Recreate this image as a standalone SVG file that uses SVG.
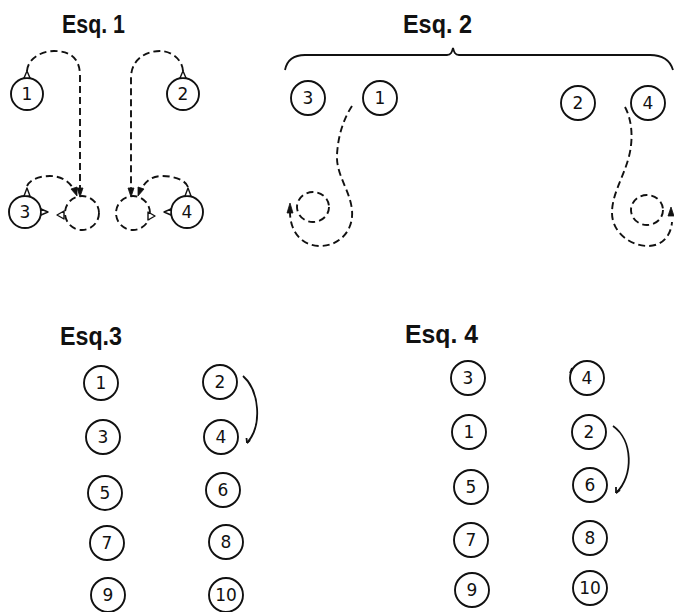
<svg xmlns="http://www.w3.org/2000/svg" width="674" height="612" viewBox="0 0 674 612">
<style>
.c{fill:#fff;stroke:#111;stroke-width:1.9}
.dc{fill:none;stroke:#111;stroke-width:1.9;stroke-dasharray:7 4}
.d{fill:none;stroke:#111;stroke-width:1.9;stroke-dasharray:7 4}
.s{fill:none;stroke:#111;stroke-width:1.8}
.t{fill:#fff;stroke:#111;stroke-width:1.4;stroke-linejoin:round}
.ah{fill:#111;stroke:#111;stroke-width:0.8}
.n{font-family:"DejaVu Sans","Liberation Sans",sans-serif;font-size:17px;fill:#111;text-anchor:middle}
.h{font-family:"Liberation Sans",Arial,sans-serif;font-weight:bold;font-size:25px;fill:#111}
</style>
<rect width="674" height="612" fill="#fff"/>

<!-- titles -->
<text class="h" x="62" y="33" textLength="63" lengthAdjust="spacingAndGlyphs">Esq. 1</text>
<text class="h" x="403" y="33" textLength="69" lengthAdjust="spacingAndGlyphs">Esq. 2</text>
<text class="h" x="60" y="345" textLength="62" lengthAdjust="spacingAndGlyphs">Esq.3</text>
<text class="h" x="405" y="343" textLength="73" lengthAdjust="spacingAndGlyphs">Esq. 4</text>

<!-- connectors -->
<g id="connectors">
  <!-- Esq 1 -->
  <path class="d" d="M27,71 C28,58 42,51 54,51 C70,51 80,58 80,76 L80,190"/>
  <polygon class="ah" points="80,197 77,188 83,188"/>
  <path class="d" d="M183,71 C182,58 170,51 160,51 C145,51 131,60 131,78 L131,190"/>
  <polygon class="ah" points="131,197 128,188 134,188"/>
  <path class="d" d="M27,186 C31,178 42,176 50,176 C62,176 70,182 74,190"/>
  <polygon class="ah" points="77,196 71,189 77,187"/>
  <path class="d" d="M188,187 C185,179 172,176 162,176 C152,176 145,181 141,190"/>
  <polygon class="ah" points="138,196 138,187 144,189"/>
  <circle class="dc" cx="82" cy="213" r="17"/>
  <circle class="dc" cx="133" cy="213" r="17"/>
  <polygon class="t" points="64,211 64,219 57,215"/>
  <polygon class="t" points="148,212 148,220 155,216"/>
  <!-- Esq 2 brace -->
  <path class="s" d="M285,70 C287,60 293,55 305,55 L447,55 C451,55 452,52 453,48 C454,52 455,55 459,55 L650,55 C662,55 670,60 673,70"/>
  <!-- Esq 2 paths -->
  <path class="d" d="M352,106 C344,118 338,135 337,155 C336,175 350,190 352,210 C354,232 338,246 320,246 C302,246 290,232 290,212"/>
  <polygon class="ah" points="290,203 287,213 293,213"/>
  <ellipse class="dc" cx="313" cy="207" rx="16" ry="15"/>
  <path class="d" d="M625,107 C632,120 634,140 628,160 C622,180 612,195 612,213 C612,232 630,246 648,246 C662,246 671,236 672,222"/>
  <polygon class="ah" points="671,207 668,216 674,216"/>
  <ellipse class="dc" cx="647" cy="210" rx="16" ry="15"/>
  <!-- Esq 3 / 4 arcs -->
  <path class="s" d="M243,376 C259,390 263,425 247,443"/>
  <path class="s" d="M247,443 L246.5,438 M247,443 L250,440"/>
  <path class="s" d="M613,426 C633,440 634,476 616,493"/>
  <path class="s" d="M616,493 L616,487 M616,493 L620,490"/>
  <path class="s" d="M572,368 L570,373"/>
</g>

<!-- Esq 1 nodes -->
<g id="e1-n1"><circle class="c" cx="27" cy="94" r="16"/><polygon class="t" points="24,78 30,78 27,71"/><text class="n" x="27" y="100">1</text></g>
<g id="e1-n2"><circle class="c" cx="183" cy="94" r="16"/><polygon class="t" points="180,78 186,78 183,71"/><text class="n" x="183" y="100">2</text></g>
<g id="e1-n3"><circle class="c" cx="25" cy="212" r="16"/><polygon class="t" points="24,196 30,196 27,188"/><polygon class="t" points="41,209 41,215 48,212"/><text class="n" x="25" y="218">3</text></g>
<g id="e1-n4"><circle class="c" cx="187" cy="212" r="16"/><polygon class="t" points="185,196 191,196 188,188"/><polygon class="t" points="171,209 171,215 164,212"/><text class="n" x="187" y="218">4</text></g>

<!-- Esq 2 nodes -->
<g id="e2-n3"><circle class="c" cx="308" cy="98" r="17"/><text class="n" x="308" y="104">3</text></g>
<g id="e2-n1"><circle class="c" cx="380" cy="98" r="17"/><text class="n" x="380" y="104">1</text></g>
<g id="e2-n2"><circle class="c" cx="578" cy="103" r="17"/><text class="n" x="578" y="109">2</text></g>
<g id="e2-n4"><circle class="c" cx="648" cy="103" r="17"/><text class="n" x="648" y="109">4</text></g>

<!-- Esq 3 nodes -->
<g id="e3-n1"><circle class="c" cx="101" cy="383" r="17"/><text class="n" x="101" y="389">1</text></g>
<g id="e3-n3"><circle class="c" cx="103" cy="437" r="17"/><text class="n" x="103" y="443">3</text></g>
<g id="e3-n5"><circle class="c" cx="105" cy="493" r="17"/><text class="n" x="105" y="499">5</text></g>
<g id="e3-n7"><circle class="c" cx="107" cy="543" r="17"/><text class="n" x="107" y="549">7</text></g>
<g id="e3-n9"><circle class="c" cx="108" cy="595" r="17"/><text class="n" x="108" y="601">9</text></g>
<g id="e3-n2"><circle class="c" cx="220" cy="382" r="17"/><text class="n" x="220" y="388">2</text></g>
<g id="e3-n4"><circle class="c" cx="221" cy="437" r="17"/><text class="n" x="221" y="443">4</text></g>
<g id="e3-n6"><circle class="c" cx="223" cy="490" r="17"/><text class="n" x="223" y="496">6</text></g>
<g id="e3-n8"><circle class="c" cx="226" cy="542" r="17"/><text class="n" x="226" y="548">8</text></g>
<g id="e3-n10"><circle class="c" cx="226" cy="595" r="17"/><text class="n" x="226" y="601">10</text></g>

<!-- Esq 4 nodes -->
<g id="e4-n3"><circle class="c" cx="468" cy="378" r="17"/><text class="n" x="468" y="384">3</text></g>
<g id="e4-n1"><circle class="c" cx="469" cy="432" r="17"/><text class="n" x="469" y="438">1</text></g>
<g id="e4-n5"><circle class="c" cx="471" cy="487" r="17"/><text class="n" x="471" y="493">5</text></g>
<g id="e4-n7"><circle class="c" cx="471" cy="540" r="17"/><text class="n" x="471" y="546">7</text></g>
<g id="e4-n9"><circle class="c" cx="472" cy="590" r="17"/><text class="n" x="472" y="596">9</text></g>
<g id="e4-n4"><circle class="c" cx="587" cy="378" r="17"/><text class="n" x="587" y="384">4</text></g>
<g id="e4-n2"><circle class="c" cx="589" cy="432" r="17"/><text class="n" x="589" y="438">2</text></g>
<g id="e4-n6"><circle class="c" cx="590" cy="485" r="17"/><text class="n" x="590" y="491">6</text></g>
<g id="e4-n8"><circle class="c" cx="590" cy="538" r="17"/><text class="n" x="590" y="544">8</text></g>
<g id="e4-n10"><circle class="c" cx="590" cy="588" r="17"/><text class="n" x="590" y="594">10</text></g>
</svg>
